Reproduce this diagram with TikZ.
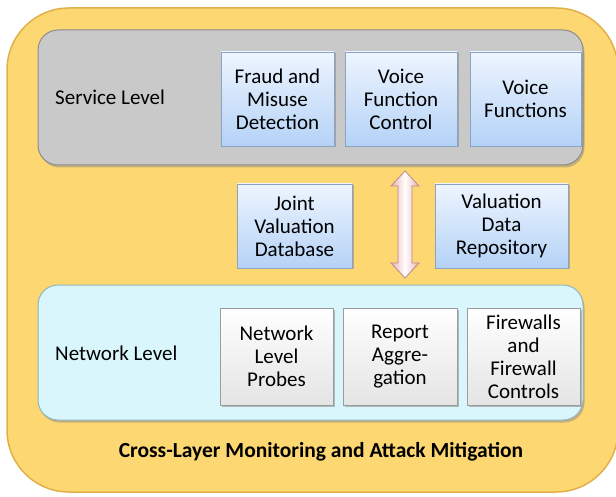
\documentclass[tikz,border=0pt]{standalone}
\usepackage{fontspec}
\setmainfont{Carlito}
\usetikzlibrary{shadows,calc}
\definecolor{yellowfill}{HTML}{FDD772}
\definecolor{yellowedge}{HTML}{E2B048}
\definecolor{svcgray}{HTML}{C9C9C9}
\definecolor{svcedge}{HTML}{8C8C8C}
\definecolor{netcyan}{HTML}{D8F6FC}
\definecolor{netedge}{HTML}{8FB5C0}
\definecolor{bluetop}{HTML}{EEF5FE}
\definecolor{bluebot}{HTML}{B4D2F7}
\definecolor{blueedge}{HTML}{8AA3C2}
\definecolor{whitebot}{HTML}{E4E4E4}
\definecolor{whiteedge}{HTML}{9C9C9C}
\definecolor{arrowpink}{HTML}{EDB0B0}
\definecolor{arrowedge}{HTML}{B88A8A}
\begin{document}
\begin{tikzpicture}[x=1pt,y=-1pt,
  every node/.style={font=\fontsize{21}{23}\selectfont, align=center, inner sep=0pt},
  outerbox/.style={draw=yellowedge, line width=1.5pt, fill=yellowfill, rounded corners=62pt},
  levelbox/.style={rounded corners=20pt, line width=1pt, minimum width=545pt, minimum height=135pt,
     drop shadow={shadow xshift=1.5pt, shadow yshift=-2.5pt, opacity=0.45}},
  svcbox/.style={levelbox, draw=svcedge, fill=svcgray},
  netbox/.style={levelbox, draw=netedge, fill=netcyan},
  bluebox/.style={draw=blueedge, line width=0.8pt, top color=bluetop, bottom color=bluebot,
     minimum height=94pt, drop shadow={shadow xshift=1.5pt, shadow yshift=-1.5pt, opacity=0.5}},
  whitebox/.style={draw=whiteedge, line width=0.8pt, top color=white, bottom color=whitebot,
     minimum height=97pt, drop shadow={shadow xshift=1.5pt, shadow yshift=-1.5pt, opacity=0.5}},
  levellabel/.style={anchor=west},
  titlelabel/.style={font=\fontsize{21.5}{24}\selectfont\bfseries},
  dblarrow/.style={draw=arrowedge, line width=0.8pt, left color=arrowpink, right color=arrowpink, middle color=white}
]
\useasboundingbox (0,0) rectangle (616,497);
\begin{scope}
\clip (0,0) rectangle (616,497);
\draw[outerbox] (7,8) rectangle (618,492);
\end{scope}

\node[svcbox] (svc) at (310.5,97.5) {};
\node[levellabel] (svclabel) at (55,97) {Service Level};
\node[bluebox, minimum width=113pt] (fraud) at (277.5,99) {Fraud and\\Misuse\\Detection};
\node[bluebox, minimum width=112pt] (vfc) at (401,99) {Voice\\Function\\Control};
\node[bluebox, minimum width=111pt] (vf) at (525.5,99) {Voice\\Functions};

\node[bluebox, minimum width=115pt, minimum height=84pt] (jvd) at (294.5,226) {Joint\\Valuation\\Database};
\node[bluebox, minimum width=133pt, minimum height=84pt] (vdr) at (501.5,226) {Valuation\\Data\\Repository};

\node[netbox] (net) at (310.5,352.5) {};
\node[levellabel] (netlabel) at (55,353) {Network Level};
\node[whitebox, minimum width=113pt] (nlp) at (276.5,356.5) {Network\\Level\\Probes};
\node[whitebox, minimum width=114pt] (ra) at (400,356.5) {Report\\Aggre-\\gation};
\node[whitebox, minimum width=113pt] (fw) at (523.5,356.5) {Firewalls\\and\\Firewall\\Controls};

\node[titlelabel] (title) at (321,452) {Cross-Layer Monitoring and Attack Mitigation};

\coordinate (at) at (405,171);
\coordinate (ab) at (405,278);
\draw[dblarrow] (at) -- ($(at)+(14,15)$) -- ($(at)+(7,15)$) -- ($(ab)+(7,-15)$) -- ($(ab)+(14,-15)$)
  -- (ab) -- ($(ab)+(-14,-15)$) -- ($(ab)+(-7,-15)$) -- ($(at)+(-7,15)$) -- ($(at)+(-14,15)$) -- cycle;
\end{tikzpicture}
\end{document}
